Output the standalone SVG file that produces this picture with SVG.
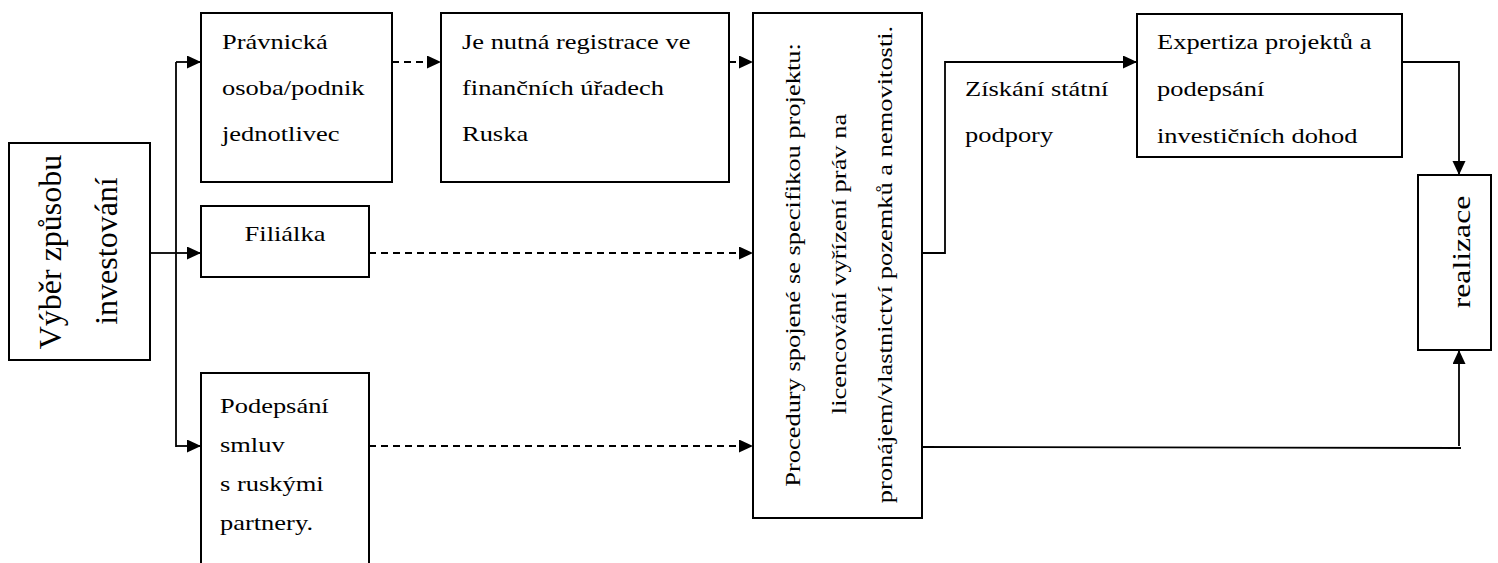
<svg xmlns="http://www.w3.org/2000/svg" width="1498" height="563" viewBox="0 0 1498 563">
<style>
.box{fill:#fff;stroke:#000;stroke-width:2}
.t{font-family:"Liberation Serif","Times New Roman",serif;font-size:21px;fill:#000}
.big{font-family:"Liberation Serif","Times New Roman",serif;font-size:32px;fill:#000}
.ln{fill:none;stroke:#000;stroke-width:1.8}
.dash{stroke-dasharray:7 5}
</style>
<defs>
<marker id="arr" markerUnits="userSpaceOnUse" markerWidth="15" markerHeight="14" refX="14" refY="6.5" orient="auto">
<path d="M0,0 L14,6.5 L0,13 z" fill="#000"/>
</marker>
</defs>
<rect width="1498" height="563" fill="#fff"/>
<g id="connectors">
<path class="ln" d="M150,253 H176"/>
<path class="ln" d="M176,62 V447"/>
<path class="ln" d="M176,62 H201" marker-end="url(#arr)"/>
<path class="ln" d="M176,253 H201" marker-end="url(#arr)"/>
<path class="ln" d="M176,446 H201" marker-end="url(#arr)"/>
<path class="ln dash" d="M392,62 H441" marker-end="url(#arr)"/>
<path class="ln dash" d="M729,62 H753" marker-end="url(#arr)"/>
<path class="ln dash" d="M369,253 H753" marker-end="url(#arr)"/>
<path class="ln dash" d="M369,446 H753" marker-end="url(#arr)"/>
<path class="ln" d="M922,253 H945 V62 H1137" marker-end="url(#arr)"/>
<path class="ln" d="M1402,62 H1459 V175" marker-end="url(#arr)"/>
<path class="ln" d="M922,447 L1461,448"/>
<path class="ln" d="M1459,446 V350" marker-end="url(#arr)"/>
</g>
<g id="vyber">
<rect class="box" x="9" y="143" width="141" height="217"/>
<text class="big" text-anchor="middle" transform="translate(61,252) rotate(-90)">Výběr způsobu</text>
<text class="big" text-anchor="middle" transform="translate(117,251) rotate(-90)">investování</text>
</g>
<g id="pravnicka">
<rect class="box" x="201" y="13" width="191" height="169"/>
<text class="t" transform="translate(222,49) scale(1.26 1)"><tspan x="0" y="0">Právnická</tspan><tspan x="0" y="46">osoba/podnik</tspan><tspan x="0" y="92">jednotlivec</tspan></text>
</g>
<g id="registrace">
<rect class="box" x="441" y="13" width="288" height="169"/>
<text class="t" transform="translate(462,49) scale(1.26 1)"><tspan x="0" y="0">Je nutná registrace ve</tspan><tspan x="0" y="46">finančních úřadech</tspan><tspan x="0" y="92">Ruska</tspan></text>
</g>
<g id="filialka">
<rect class="box" x="201" y="206" width="168" height="71"/>
<text class="t" text-anchor="middle" transform="translate(285,241) scale(1.26 1)">Filiálka</text>
</g>
<g id="podepsani">
<rect class="box" x="201" y="373" width="168" height="200"/>
<text class="t" transform="translate(220,413) scale(1.26 1)"><tspan x="0" y="0">Podepsání</tspan><tspan x="0" y="39">smluv</tspan><tspan x="0" y="78">s ruskými</tspan><tspan x="0" y="117">partnery.</tspan></text>
</g>
<g id="procedury">
<rect class="box" x="753" y="13" width="169" height="505"/>
<text class="t" text-anchor="middle" transform="translate(800,265) rotate(-90) scale(1.26 1)">Procedury spojené se specifikou projektu:</text>
<text class="t" text-anchor="middle" transform="translate(846,264) rotate(-90) scale(1.26 1)">licencování vyřízení práv na</text>
<text class="t" text-anchor="middle" transform="translate(892,264.5) rotate(-90) scale(1.26 1)">pronájem/vlastnictví pozemků a nemovitosti.</text>
</g>
<g id="podpora">
<text class="t" transform="translate(965,96) scale(1.26 1)"><tspan x="0" y="0">Získání státní</tspan><tspan x="0" y="46">podpory</tspan></text>
</g>
<g id="expertiza">
<rect class="box" x="1137" y="14" width="265" height="143"/>
<text class="t" transform="translate(1157,49) scale(1.26 1)"><tspan x="0" y="0">Expertiza projektů a</tspan><tspan x="0" y="47">podepsání</tspan><tspan x="0" y="94">investičních dohod</tspan></text>
</g>
<g id="realizace">
<rect class="box" x="1418" y="175" width="73" height="175"/>
<text class="t" style="font-size:25px" text-anchor="middle" transform="translate(1470,252) rotate(-90) scale(1.27 1)">realizace</text>
</g>
</svg>
